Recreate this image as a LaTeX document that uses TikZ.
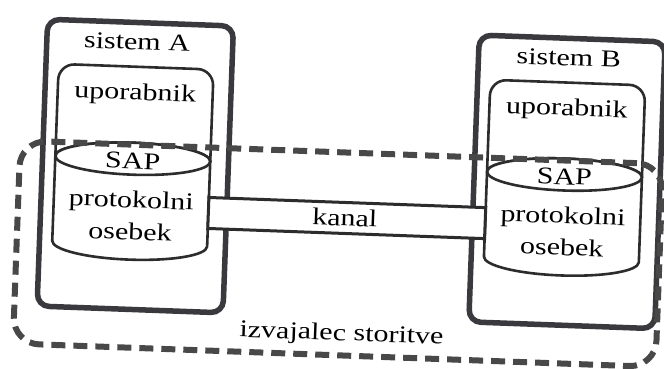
\documentclass[tikz,border=0pt]{standalone}
\usepackage{fontspec}
\newfontfamily\diagfont{Liberation Serif}[FakeStretch=1.25]
\definecolor{framegray}{HTML}{3A3A3E}
\definecolor{dashgray}{HTML}{484848}
\definecolor{partgray}{HTML}{2C2C2C}

% One system: outer frame, user box and the protocol entity drum with its SAP
\newcommand{\sysblock}[2]{%
  \node[frame, minimum width=186pt, minimum height=287pt, anchor=north west]
    (sys#2) at (#1,-27) {};
  \node[lbl] (sys#2name) at (#1+93,-57) {sistem #2};
  \draw[part, rounded corners=16pt]
    (#1+15.5,-166) -- (#1+15.5,-74) -- (#1+170.5,-74) -- (#1+170.5,-166);
  \node[lbl] (user#2) at (#1+93,-107) {uporabnik};
  \draw[part] (#1+15.5,-166) -- (#1+15.5,-251)
    arc[start angle=180, end angle=360, x radius=77.5, y radius=16]
    -- (#1+170.5,-166)
    arc[start angle=0, end angle=180, x radius=77.5, y radius=16] -- cycle;
  \draw[part] (#1+93,-166) ellipse[x radius=77.5, y radius=16];
  \coordinate (pe#2west) at (#1+15.5,-217.5);
  \coordinate (pe#2east) at (#1+170.5,-217.5);
  \node[lbl] (sap#2) at (#1+93,-176) {SAP};
  \node[lbl] (pe#2a) at (#1+93,-215) {protokolni};
  \node[lbl] (pe#2b) at (#1+93,-247) {osebek};
}

\begin{document}
\begin{tikzpicture}[x=1pt, y=1pt,
  frame/.style={draw=framegray, line width=5.5pt, rounded corners=12pt,
    fill=white, inner sep=0pt},
  part/.style={draw=partgray, line width=2.6pt, fill=white},
  chan/.style={draw=partgray, line width=3pt, fill=white, inner sep=0pt},
  svc/.style={draw=dashgray, line width=6pt, dash pattern=on 14pt off 8pt,
    rounded corners=26pt, inner sep=0pt},
  lbl/.style={font=\diagfont\fontsize{24}{28}\selectfont, text=black,
    anchor=base, inner sep=0pt}]
  \useasboundingbox (0,0) rectangle (664,-369);
  \fill[white] (0,0) rectangle (664,-369);
  \begin{scope}[rotate around={-2.1:(332,-184)}, transform shape]
    \sysblock{39}{A}
    \sysblock{471}{B}
    % communication channel between the two protocol entities
    \path (peAeast) -- (peBwest)
      node[chan, midway, minimum width=277pt, minimum height=31pt] (kanal) {};
    \node[lbl] (kanaltext) at (346,-225.5) {kanal};
    % service provider region
    \node[svc, minimum width=643pt, minimum height=203pt] (izvajalec)
      at (340.5,-253.5) {};
    \node[lbl] (izvtext) at (347,-340) {izvajalec storitve};
  \end{scope}
\end{tikzpicture}
\end{document}
